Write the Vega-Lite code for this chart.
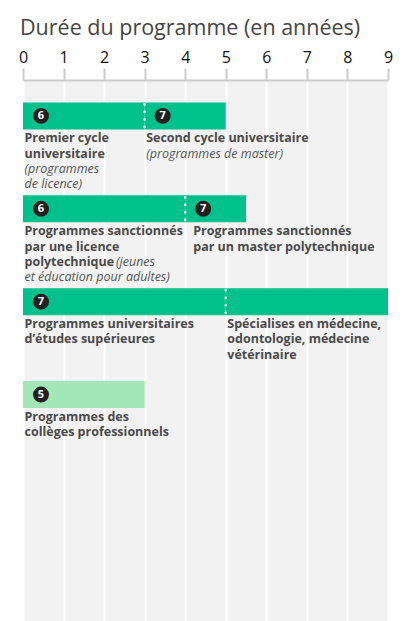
{
  "$schema": "https://vega.github.io/schema/vega-lite/v6.json",
  "width": 365,
  "height": 541,
  "autosize": {"type": "none"},
  "padding": {"left": 23, "top": 80, "right": 16, "bottom": 0},
  "background": "white",
  "title": {
    "text": "Durée du programme (en années)",
    "anchor": "start",
    "frame": "group",
    "font": "Open Sans",
    "fontSize": 21.5,
    "fontWeight": "normal",
    "color": "#444444",
    "offset": 10,
    "dx": -3
  },
  "config": {
    "view": {"fill": "#f2f2f2", "stroke": null},
    "font": "Open Sans"
  },
  "datasets": {
    "segments": [
      {"rangee": 1, "debut": 0, "fin": 3, "niveau": 6, "etablissement": "université", "nom": "Premier cycle\nuniversitaire", "precision": "(programmes\nde licence)"},
      {"rangee": 1, "debut": 3, "fin": 5, "niveau": 7, "etablissement": "université", "nom": "Second cycle universitaire", "precision": "(programmes de master)"},
      {"rangee": 2, "debut": 0, "fin": 4, "niveau": 6, "etablissement": "université", "nom": "Programmes sanctionnés\npar une licence\npolytechnique", "precision": "(jeunes", "precision_suite": "et éducation pour adultes)"},
      {"rangee": 2, "debut": 4, "fin": 5.5, "niveau": 7, "etablissement": "université", "nom": "Programmes sanctionnés\npar un master polytechnique"},
      {"rangee": 3, "debut": 0, "fin": 5, "niveau": 7, "etablissement": "université", "nom": "Programmes universitaires\nd’études supérieures"},
      {"rangee": 3, "debut": 5, "fin": 9, "niveau": null, "etablissement": "université", "nom": "Spécialises en médecine,\nodontologie, médecine\nvétérinaire"},
      {"rangee": 4, "debut": 0, "fin": 3, "niveau": 5, "etablissement": "collège", "nom": "Programmes des\ncollèges professionnels"}
    ]
  },
  "data": {"name": "segments"},
  "encoding": {
    "x": {
      "field": "debut",
      "type": "quantitative",
      "scale": {"domain": [0, 9], "nice": false, "zero": false},
      "axis": {
        "orient": "top",
        "title": null,
        "values": [0, 1, 2, 3, 4, 5, 6, 7, 8, 9],
        "format": "d",
        "tickSize": 12,
        "tickWidth": 2,
        "tickColor": "#cccccc",
        "domainColor": "#cccccc",
        "domainWidth": 2,
        "labelFont": "Open Sans",
        "labelFontSize": 16,
        "labelColor": "#111111",
        "labelPadding": 3,
        "labelFlush": false,
        "grid": true,
        "gridColor": "white",
        "gridWidth": 2
      }
    },
    "y": {
      "field": "rangee",
      "type": "ordinal",
      "axis": null,
      "scale": {"domain": [1, 2, 3, 4, 5], "paddingInner": 0.7094, "paddingOuter": 0.7665, "align": 0.1573}
    }
  },
  "layer": [
    {
      "mark": {"type": "bar", "cornerRadius": 0},
      "encoding": {
        "x2": {"field": "fin"},
        "color": {
          "field": "etablissement",
          "type": "nominal",
          "scale": {"domain": ["université", "collège"], "range": ["#00c08b", "#a3e7b8"]},
          "legend": null
        }
      }
    },
    {
      "transform": [{"filter": "datum.debut > 0"}],
      "mark": {"type": "rule", "color": "white", "strokeWidth": 2.6, "strokeDash": [0.1, 7.4], "strokeCap": "round", "yOffset": 2},
      "encoding": {
        "y": {"field": "rangee", "type": "ordinal", "bandPosition": 0},
        "y2": {"field": "rangee", "bandPosition": 1}
      }
    },
    {
      "transform": [{"filter": "isValid(datum.niveau)"}],
      "mark": {"type": "point", "filled": true, "size": 254, "color": "#231f20", "opacity": 1, "xOffset": 18},
      "encoding": {}
    },
    {
      "transform": [{"filter": "isValid(datum.niveau)"}],
      "mark": {"type": "text", "color": "white", "font": "Open Sans", "fontWeight": "bold", "fontSize": 11, "xOffset": 18, "align": "center", "baseline": "middle"},
      "encoding": {"text": {"field": "niveau"}}
    },
    {
      "transform": [{"filter": "!(datum.rangee == 2 && datum.debut == 4)"}],
      "mark": {"type": "text", "align": "left", "baseline": "top", "dx": 1.5, "dy": 3, "lineBreak": "\n", "lineHeight": 15.3, "font": "Open Sans", "fontWeight": "bold", "fontSize": 12.5, "color": "#4a4a4a"},
      "encoding": {
        "y": {"field": "rangee", "type": "ordinal", "bandPosition": 1},
        "text": {"field": "nom"}
      }
    },
    {
      "transform": [{"filter": "datum.rangee == 2 && datum.debut == 4"}],
      "mark": {"type": "text", "align": "left", "baseline": "top", "dx": 8, "dy": 3, "lineBreak": "\n", "lineHeight": 15.3, "font": "Open Sans", "fontWeight": "bold", "fontSize": 12.5, "color": "#4a4a4a"},
      "encoding": {
        "y": {"field": "rangee", "type": "ordinal", "bandPosition": 1},
        "text": {"field": "nom"}
      }
    },
    {
      "transform": [{"filter": "datum.rangee == 1 && datum.debut == 3"}],
      "mark": {"type": "text", "align": "left", "baseline": "top", "dx": 1.5, "dy": 18.3, "lineBreak": "\n", "lineHeight": 15.3, "font": "Open Sans", "fontStyle": "italic", "fontSize": 12.5, "color": "#555555"},
      "encoding": {
        "y": {"field": "rangee", "type": "ordinal", "bandPosition": 1},
        "text": {"field": "precision"}
      }
    },
    {
      "transform": [{"filter": "datum.rangee == 1 && datum.debut == 0"}],
      "mark": {"type": "text", "align": "left", "baseline": "top", "dx": 1.5, "dy": 33.6, "lineBreak": "\n", "lineHeight": 15.3, "font": "Open Sans", "fontStyle": "italic", "fontSize": 12.5, "color": "#555555"},
      "encoding": {
        "y": {"field": "rangee", "type": "ordinal", "bandPosition": 1},
        "text": {"field": "precision"}
      }
    },
    {
      "transform": [{"filter": "datum.rangee == 2 && datum.debut == 0"}],
      "mark": {"type": "text", "align": "left", "baseline": "top", "dx": 93, "dy": 33.6, "font": "Open Sans", "fontStyle": "italic", "fontSize": 12.5, "color": "#555555"},
      "encoding": {
        "y": {"field": "rangee", "type": "ordinal", "bandPosition": 1},
        "text": {"field": "precision"}
      }
    },
    {
      "transform": [{"filter": "isValid(datum.precision_suite)"}],
      "mark": {"type": "text", "align": "left", "baseline": "top", "dx": 1.5, "dy": 48.9, "font": "Open Sans", "fontStyle": "italic", "fontSize": 12.5, "color": "#555555"},
      "encoding": {
        "y": {"field": "rangee", "type": "ordinal", "bandPosition": 1},
        "text": {"field": "precision_suite"}
      }
    }
  ]
}
